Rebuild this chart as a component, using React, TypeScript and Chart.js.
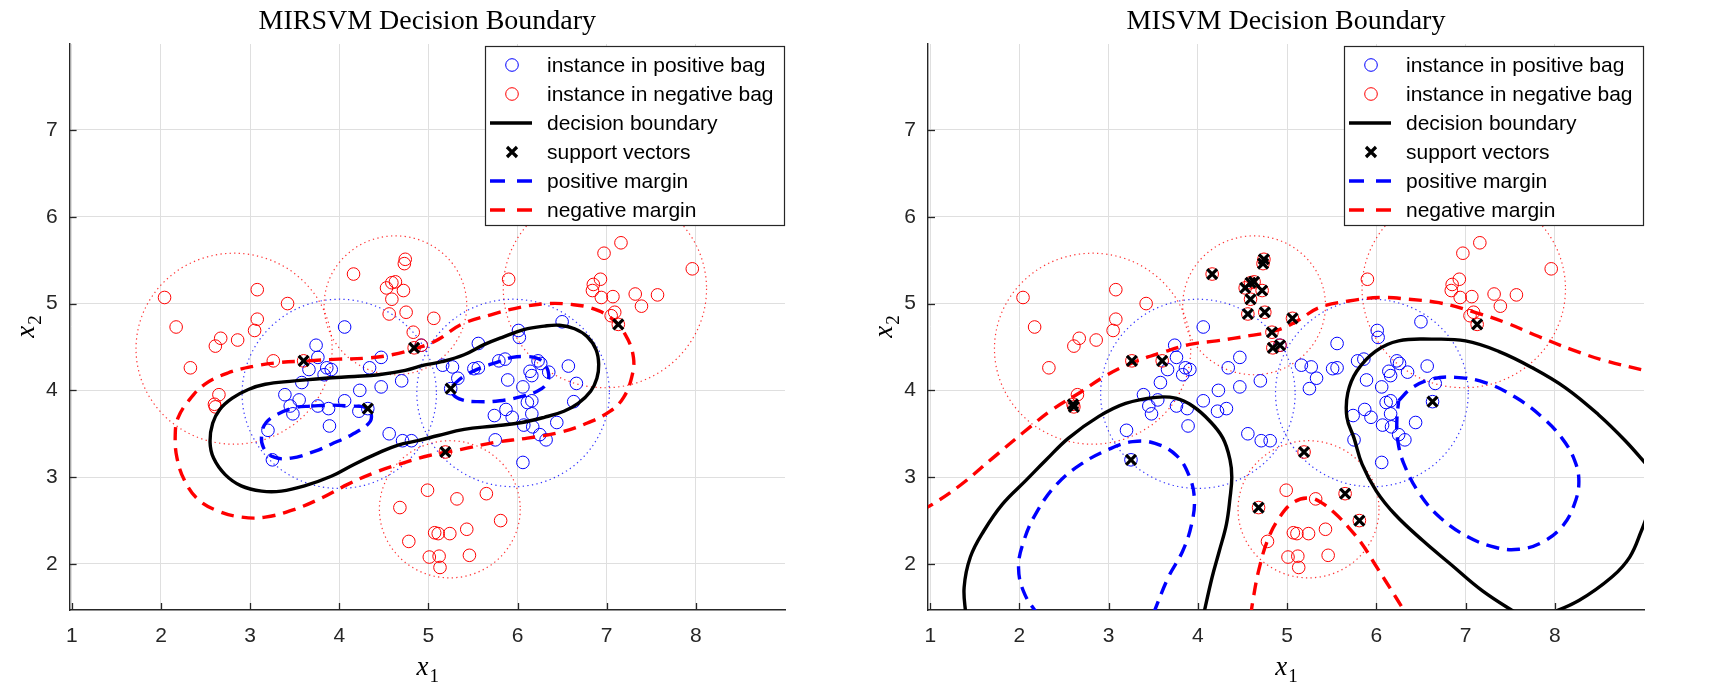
import React, { useEffect, useRef } from 'react';
import { Chart, registerables } from 'chart.js';

Chart.register(...registerables);

// ---------------- data ----------------
const chartTitles = ['MIRSVM Decision Boundary', 'MISVM Decision Boundary'];
const legendLabels = [
  'instance in positive bag',
  'instance in negative bag',
  'decision boundary',
  'support vectors',
  'positive margin',
  'negative margin',
];
const xTicks = [1, 2, 3, 4, 5, 6, 7, 8];
const yTicks = [2, 3, 4, 5, 6, 7];
const xRange = [0.975, 9.0];
const yRange = [1.47, 7.99];

const posX = [4.06, 3.74, 3.76, 3.66, 3.86, 3.91, 3.83, 4.34, 4.47, 3.58, 3.39, 3.55, 4.06, 4.23, 4.47, 4.70, 3.45, 3.48, 3.76, 3.88, 4.22, 4.32, 3.89, 3.20, 3.25, 4.56, 4.71, 4.81, 4.92, 5.16, 5.27, 5.33, 5.51, 5.56, 5.56, 5.79, 5.86, 6.01, 6.02, 6.50, 6.23, 6.26, 6.14, 6.16, 6.35, 6.57, 6.66, 5.89, 6.06, 5.25, 6.63, 6.11, 6.16, 6.16, 5.74, 5.87, 5.94, 6.07, 6.17, 6.25, 6.32, 6.44, 5.75, 6.06];
const posY = [4.73, 4.52, 4.38, 4.24, 4.26, 4.24, 4.18, 4.26, 4.38, 4.09, 3.95, 3.89, 3.88, 4.00, 4.04, 4.11, 3.82, 3.73, 3.82, 3.79, 3.76, 3.79, 3.59, 3.54, 3.20, 3.50, 3.42, 3.42, 4.52, 4.29, 4.27, 4.14, 4.25, 4.26, 4.54, 4.34, 4.36, 4.69, 4.61, 4.79, 4.34, 4.31, 4.22, 4.17, 4.21, 4.28, 4.08, 4.12, 4.04, 4.02, 3.87, 3.86, 3.88, 3.73, 3.71, 3.78, 3.69, 3.60, 3.58, 3.49, 3.43, 3.63, 3.43, 3.17];

const negX = [2.04, 2.17, 2.33, 2.61, 2.67, 2.86, 3.08, 3.08, 3.05, 3.42, 3.26, 2.65, 2.60, 2.61, 3.60, 4.16, 4.74, 4.73, 4.53, 4.59, 4.63, 4.72, 4.59, 4.56, 4.75, 4.83, 5.06, 4.84, 4.92, 5.90, 6.97, 7.16, 7.96, 6.93, 6.85, 6.84, 6.94, 7.07, 7.32, 7.57, 7.39, 7.09, 7.05, 7.13, 4.99, 4.68, 4.78, 5.01, 5.32, 5.65, 5.81, 5.43, 5.24, 5.11, 5.07, 5.12, 5.46, 5.13, 5.19];
const negY = [5.07, 4.73, 4.26, 4.51, 4.60, 4.58, 5.16, 4.82, 4.69, 5.00, 4.34, 3.95, 3.84, 3.81, 4.34, 5.34, 5.51, 5.46, 5.18, 5.24, 5.25, 5.15, 5.05, 4.88, 4.90, 4.67, 4.83, 4.49, 4.52, 5.28, 5.58, 5.70, 5.40, 5.28, 5.22, 5.15, 5.07, 5.08, 5.11, 5.10, 4.97, 4.90, 4.86, 4.76, 2.85, 2.65, 2.26, 2.08, 2.75, 2.81, 2.50, 2.40, 2.35, 2.35, 2.36, 2.09, 2.10, 1.96, 3.29];

// bag circles (center, radius)
const posBagCx = [4.0, 5.95];
const posBagCy = [3.96, 3.97];
const posBagR = [1.09, 1.08];
const negBagCx = [2.82, 4.63, 6.98, 5.24];
const negBagCy = [4.48, 4.98, 5.17, 2.63];
const negBagR = [1.1, 0.8, 1.14, 0.79];

// support vectors
const mirsvmSvX = [3.60, 4.32, 4.84, 5.25, 5.19, 7.13];
const mirsvmSvY = [4.34, 3.79, 4.49, 4.02, 3.29, 4.76];
const misvmSvX = [4.53, 4.59, 4.63, 4.72, 4.59, 4.56, 4.75, 4.83, 5.06, 4.74, 4.73, 4.16, 4.84, 4.92, 3.60, 3.26, 2.60, 2.61, 3.25, 5.19, 7.13, 6.63, 4.68, 5.65, 5.81];
const misvmSvY = [5.18, 5.24, 5.25, 5.15, 5.05, 4.88, 4.90, 4.67, 4.83, 5.51, 5.46, 5.34, 4.49, 4.52, 4.34, 4.34, 3.84, 3.81, 3.20, 3.29, 4.76, 3.87, 2.65, 2.81, 2.50];

// MIRSVM contours
const mirsvmBoundary = [[3.50, 4.11], [3.84, 4.14], [4.17, 4.16], [4.44, 4.18], [4.74, 4.23], [4.95, 4.29], [5.15, 4.33], [5.40, 4.41], [5.63, 4.53], [5.85, 4.62], [6.07, 4.70], [6.30, 4.74], [6.47, 4.75], [6.64, 4.71], [6.78, 4.62], [6.88, 4.47], [6.91, 4.30], [6.89, 4.14], [6.82, 3.99], [6.68, 3.85], [6.52, 3.76], [6.30, 3.69], [6.05, 3.63], [5.74, 3.59], [5.40, 3.55], [5.11, 3.48], [4.88, 3.42], [4.66, 3.37], [4.44, 3.28], [4.17, 3.15], [3.91, 3.01], [3.61, 2.90], [3.35, 2.84], [3.13, 2.84], [2.90, 2.90], [2.72, 3.03], [2.59, 3.22], [2.55, 3.41], [2.58, 3.62], [2.66, 3.78], [2.80, 3.91], [2.98, 4.01], [3.17, 4.07], [3.50, 4.11]];
const mirsvmPosMarginA = [[3.69, 3.82], [3.89, 3.83], [4.10, 3.82], [4.30, 3.80], [4.36, 3.72], [4.33, 3.62], [4.14, 3.49], [3.91, 3.38], [3.73, 3.30], [3.46, 3.22], [3.27, 3.23], [3.15, 3.34], [3.13, 3.50], [3.18, 3.63], [3.30, 3.72], [3.50, 3.80], [3.69, 3.82]];
const mirsvmPosMarginB = [[5.27, 4.05], [5.38, 4.15], [5.59, 4.26], [5.79, 4.33], [5.94, 4.38], [6.10, 4.39], [6.22, 4.37], [6.30, 4.31], [6.35, 4.18], [6.32, 4.07], [6.22, 3.99], [6.05, 3.93], [5.80, 3.88], [5.55, 3.87], [5.38, 3.89], [5.28, 3.95], [5.27, 4.05]];
const mirsvmNegMargin = [[3.65, 4.34], [3.99, 4.36], [4.29, 4.37], [4.59, 4.41], [4.88, 4.49], [5.10, 4.58], [5.37, 4.76], [5.70, 4.87], [6.04, 4.96], [6.34, 5.00], [6.60, 4.99], [6.82, 4.95], [7.04, 4.84], [7.21, 4.64], [7.30, 4.38], [7.28, 4.15], [7.19, 3.92], [7.04, 3.76], [6.75, 3.61], [6.45, 3.51], [6.11, 3.45], [5.74, 3.40], [5.37, 3.32], [5.01, 3.25], [4.74, 3.17], [4.44, 3.07], [4.10, 2.92], [3.80, 2.76], [3.50, 2.63], [3.17, 2.54], [2.90, 2.54], [2.64, 2.61], [2.42, 2.74], [2.27, 2.95], [2.18, 3.22], [2.16, 3.49], [2.19, 3.68], [2.31, 3.88], [2.49, 4.07], [2.75, 4.20], [3.05, 4.28], [3.32, 4.32], [3.65, 4.34]];

// MISVM contours
const misvmBoundaryA = [[1.40, 1.40], [1.38, 1.73], [1.45, 2.08], [1.60, 2.38], [1.81, 2.69], [2.07, 2.96], [2.30, 3.20], [2.55, 3.45], [2.89, 3.70], [3.19, 3.85], [3.53, 3.92], [3.75, 3.91], [3.94, 3.82], [4.13, 3.65], [4.28, 3.45], [4.36, 3.20], [4.38, 3.00], [4.36, 2.76], [4.32, 2.46], [4.24, 2.15], [4.16, 1.85], [4.06, 1.40]];
const misvmBoundaryB = [[7.62, 1.40], [7.19, 1.69], [6.83, 2.00], [6.52, 2.27], [6.21, 2.57], [6.00, 2.84], [5.84, 3.15], [5.75, 3.45], [5.67, 3.69], [5.68, 3.97], [5.78, 4.22], [5.99, 4.45], [6.25, 4.57], [6.62, 4.59], [7.00, 4.57], [7.37, 4.45], [7.75, 4.26], [8.12, 4.03], [8.49, 3.72], [8.79, 3.42], [9.05, 3.12]];
const misvmBoundaryC = [[7.88, 1.40], [8.27, 1.58], [8.64, 1.85], [8.84, 2.08], [8.97, 2.38], [9.05, 2.60]];
const misvmPosMarginA = [[2.22, 1.40], [2.06, 1.65], [1.99, 1.95], [2.05, 2.27], [2.20, 2.61], [2.42, 2.92], [2.69, 3.15], [3.00, 3.32], [3.27, 3.41], [3.52, 3.39], [3.76, 3.25], [3.90, 3.02], [3.96, 2.76], [3.93, 2.46], [3.83, 2.15], [3.67, 1.85], [3.49, 1.40]];
const misvmPosMarginB = [[6.25, 3.88], [6.40, 4.03], [6.62, 4.13], [6.89, 4.15], [7.22, 4.09], [7.56, 3.92], [7.86, 3.69], [8.08, 3.45], [8.22, 3.20], [8.27, 2.95], [8.22, 2.69], [8.09, 2.44], [7.86, 2.25], [7.60, 2.17], [7.34, 2.19], [7.03, 2.31], [6.72, 2.53], [6.49, 2.80], [6.31, 3.15], [6.24, 3.42], [6.23, 3.65], [6.25, 3.88]];
const misvmNegMarginA = [[0.90, 2.62], [1.03, 2.69], [1.34, 2.91], [1.70, 3.22], [2.05, 3.52], [2.37, 3.78], [2.67, 3.97], [2.97, 4.17], [3.27, 4.32], [3.61, 4.44], [3.91, 4.53], [4.21, 4.57], [4.58, 4.63], [4.88, 4.69], [5.13, 4.81], [5.35, 4.95], [5.69, 5.03], [6.06, 5.07], [6.36, 5.05], [6.70, 5.01], [7.07, 4.91], [7.45, 4.78], [7.82, 4.62], [8.19, 4.47], [8.57, 4.34], [9.05, 4.22]];
const misvmNegMarginB = [[4.59, 1.40], [4.62, 1.60], [4.68, 1.92], [4.78, 2.27], [4.91, 2.53], [5.07, 2.71], [5.25, 2.76], [5.38, 2.71], [5.53, 2.59], [5.69, 2.42], [5.84, 2.23], [5.97, 2.02], [6.10, 1.81], [6.35, 1.40]];

// ---------------- styling ----------------
const BLUE = '#0000ff';
const RED = '#ff0000';
const AXIS = '#262626';
const GRID = '#dfdfdf';
const SANS = '"Liberation Sans", Arial, Helvetica, sans-serif';
const SERIF = '"Liberation Serif", "Times New Roman", serif';
const LINE_W = 3.4;
const DASH = [13, 8];

const toPts = (xs: number[], ys: number[]) => xs.map((x, i) => ({ x, y: ys[i] }));
const pairPts = (arr: number[][]) => arr.map(([x, y]) => ({ x, y }));

function drawVarLabel(ctx: CanvasRenderingContext2D, base: string, sub: string, cx: number, cy: number, rotate: boolean) {
  ctx.save();
  ctx.translate(cx, cy);
  if (rotate) ctx.rotate(-Math.PI / 2);
  const f1 = `italic 27px ${SERIF}`;
  const f2 = `19px ${SERIF}`;
  ctx.font = f1;
  const w1 = ctx.measureText(base).width;
  ctx.font = f2;
  const w2 = ctx.measureText(sub).width;
  const start = -(w1 + w2) / 2;
  ctx.fillStyle = '#000';
  ctx.textAlign = 'left';
  ctx.textBaseline = 'alphabetic';
  ctx.font = f1;
  ctx.fillText(base, start, 5);
  ctx.font = f2;
  ctx.fillText(sub, start + w1 + 1, 12);
  ctx.restore();
}

const bagsPlugin = {
  id: 'bags',
  beforeDatasetsDraw(chart: any) {
    const { ctx, chartArea: a, scales } = chart;
    const sx = scales.x;
    const sy = scales.y;
    const ux = Math.abs(sx.getPixelForValue(2) - sx.getPixelForValue(1));
    const uy = Math.abs(sy.getPixelForValue(2) - sy.getPixelForValue(1));
    ctx.save();
    ctx.beginPath();
    ctx.rect(a.left, a.top, a.right - a.left, a.bottom - a.top);
    ctx.clip();
    ctx.lineWidth = 1.2;
    ctx.setLineDash([1.3, 3.3]);
    const draw = (cxs: number[], cys: number[], rs: number[], color: string) => {
      ctx.strokeStyle = color;
      cxs.forEach((cx, i) => {
        ctx.beginPath();
        ctx.ellipse(sx.getPixelForValue(cx), sy.getPixelForValue(cys[i]), rs[i] * ux, rs[i] * uy, 0, 0, Math.PI * 2);
        ctx.stroke();
      });
    };
    draw(negBagCx, negBagCy, negBagR, 'rgba(255,0,0,0.8)');
    draw(posBagCx, posBagCy, posBagR, 'rgba(0,0,255,0.8)');
    ctx.restore();
  },
};

function makeDecorPlugin(title: string) {
  return {
    id: 'decor',
    afterDraw(chart: any) {
      const { ctx, chartArea: a, scales } = chart;
      const sx = scales.x;
      const sy = scales.y;
      ctx.save();
      // inside tick marks
      ctx.strokeStyle = AXIS;
      ctx.lineWidth = 1.3;
      ctx.setLineDash([]);
      xTicks.forEach((v) => {
        const px = Math.round(sx.getPixelForValue(v)) + 0.5;
        ctx.beginPath();
        ctx.moveTo(px, a.bottom);
        ctx.lineTo(px, a.bottom - 7);
        ctx.stroke();
      });
      yTicks.forEach((v) => {
        const py = Math.round(sy.getPixelForValue(v)) + 0.5;
        ctx.beginPath();
        ctx.moveTo(a.left, py);
        ctx.lineTo(a.left + 7, py);
        ctx.stroke();
      });
      // title
      ctx.fillStyle = '#000';
      ctx.font = `28px ${SERIF}`;
      ctx.textAlign = 'center';
      ctx.textBaseline = 'middle';
      const cx = (a.left + a.right) / 2;
      ctx.fillText(title, cx, 22);
      // axis labels
      drawVarLabel(ctx, 'x', '1', cx, 670, false);
      drawVarLabel(ctx, 'x', '2', a.left - 41, (a.top + a.bottom) / 2, true);
      // legend
      const w = 300;
      const h = 179;
      const x0 = a.right - w;
      const y0 = 46;
      ctx.fillStyle = '#fff';
      ctx.fillRect(x0, y0, w, h);
      ctx.strokeStyle = AXIS;
      ctx.lineWidth = 1.2;
      ctx.strokeRect(Math.round(x0) + 0.5, y0 + 0.5, w - 1, h);
      const ix = x0 + 27;
      legendLabels.forEach((lab, i) => {
        const ry = 65 + i * 29;
        ctx.save();
        if (i === 0 || i === 1) {
          ctx.strokeStyle = i === 0 ? BLUE : RED;
          ctx.lineWidth = 1;
          ctx.beginPath();
          ctx.arc(ix, ry, 6.3, 0, Math.PI * 2);
          ctx.stroke();
        } else if (i === 3) {
          ctx.strokeStyle = '#000';
          ctx.lineWidth = 3.2;
          const d = 5;
          ctx.beginPath();
          ctx.moveTo(ix - d, ry - d);
          ctx.lineTo(ix + d, ry + d);
          ctx.moveTo(ix + d, ry - d);
          ctx.lineTo(ix - d, ry + d);
          ctx.stroke();
        } else {
          ctx.strokeStyle = i === 2 ? '#000' : i === 4 ? BLUE : RED;
          ctx.lineWidth = LINE_W;
          ctx.setLineDash(i === 2 ? [] : [15, 12]);
          ctx.beginPath();
          ctx.moveTo(x0 + 5, ry);
          ctx.lineTo(x0 + 47, ry);
          ctx.stroke();
        }
        ctx.restore();
        ctx.fillStyle = '#000';
        ctx.font = `21px ${SANS}`;
        ctx.textAlign = 'left';
        ctx.textBaseline = 'middle';
        ctx.fillText(lab, x0 + 62, ry + 1);
      });
      ctx.restore();
    },
  };
}

function lineDs(label: string, pts: number[][], color: string, dashed: boolean, order: number) {
  return {
    label,
    data: pairPts(pts),
    showLine: true,
    borderColor: color,
    backgroundColor: color,
    borderWidth: LINE_W,
    borderDash: dashed ? DASH : [],
    borderCapStyle: 'butt',
    borderJoinStyle: 'round',
    pointRadius: 0,
    tension: 0.4,
    fill: false,
    order,
  };
}

function makeConfig(idx: number): any {
  const isLeft = idx === 0;
  const sv = isLeft ? toPts(mirsvmSvX, mirsvmSvY) : toPts(misvmSvX, misvmSvY);
  const curves = isLeft
    ? [
        lineDs('decision boundary', mirsvmBoundary, '#000', false, 2),
        lineDs('positive margin', mirsvmPosMarginA, BLUE, true, 3),
        lineDs('positive margin', mirsvmPosMarginB, BLUE, true, 3),
        lineDs('negative margin', mirsvmNegMargin, RED, true, 4),
      ]
    : [
        lineDs('decision boundary', misvmBoundaryA, '#000', false, 2),
        lineDs('decision boundary', misvmBoundaryB, '#000', false, 2),
        lineDs('decision boundary', misvmBoundaryC, '#000', false, 2),
        lineDs('positive margin', misvmPosMarginA, BLUE, true, 3),
        lineDs('positive margin', misvmPosMarginB, BLUE, true, 3),
        lineDs('negative margin', misvmNegMarginA, RED, true, 4),
        lineDs('negative margin', misvmNegMarginB, RED, true, 4),
      ];
  const datasets = [
    {
      label: 'support vectors',
      data: sv,
      pointStyle: 'crossRot',
      pointRadius: 7,
      borderColor: '#000',
      backgroundColor: '#000',
      borderWidth: 3.2,
      showLine: false,
      order: 0,
    },
    ...curves,
    {
      label: 'instance in negative bag',
      data: toPts(negX, negY),
      pointStyle: 'circle',
      pointRadius: 6.3,
      borderColor: RED,
      backgroundColor: 'rgba(0,0,0,0)',
      borderWidth: 1,
      showLine: false,
      order: 10,
    },
    {
      label: 'instance in positive bag',
      data: toPts(posX, posY),
      pointStyle: 'circle',
      pointRadius: 6.3,
      borderColor: BLUE,
      backgroundColor: 'rgba(0,0,0,0)',
      borderWidth: 1,
      showLine: false,
      order: 11,
    },
  ];
  const tickFont = { family: SANS, size: 21 };
  return {
    type: 'scatter',
    data: { datasets },
    options: {
      animation: false,
      responsive: false,
      maintainAspectRatio: false,
      devicePixelRatio: 1,
      events: [],
      layout: {
        padding: isLeft
          ? { left: 9.6, right: 81, top: 44, bottom: 0 }
          : { left: 2, right: 88, top: 44, bottom: 0 },
      },
      plugins: {
        legend: { display: false },
        tooltip: { enabled: false },
        title: { display: false },
      },
      scales: {
        x: {
          type: 'linear',
          position: 'bottom',
          min: xRange[0],
          max: xRange[1],
          afterBuildTicks: (s: any) => {
            s.ticks = xTicks.map((v) => ({ value: v }));
          },
          afterFit: (s: any) => {
            s.height = 89;
          },
          grid: { color: GRID, lineWidth: 1, drawTicks: false },
          border: { display: true, color: AXIS, width: 1.4 },
          ticks: { color: AXIS, font: tickFont, padding: 14, maxRotation: 0, autoSkip: false },
        },
        y: {
          type: 'linear',
          position: 'left',
          min: yRange[0],
          max: yRange[1],
          afterBuildTicks: (s: any) => {
            s.ticks = yTicks.map((v) => ({ value: v }));
          },
          afterFit: (s: any) => {
            s.width = 60;
          },
          grid: { color: GRID, lineWidth: 1, drawTicks: false },
          border: { display: true, color: AXIS, width: 1.4 },
          ticks: { color: AXIS, font: tickFont, padding: 12, autoSkip: false },
        },
      },
    },
    plugins: [bagsPlugin, makeDecorPlugin(chartTitles[idx])],
  };
}

export default function App() {
  const leftRef = useRef<HTMLCanvasElement>(null);
  const rightRef = useRef<HTMLCanvasElement>(null);
  useEffect(() => {
    const c1 = new Chart(leftRef.current as HTMLCanvasElement, makeConfig(0));
    const c2 = new Chart(rightRef.current as HTMLCanvasElement, makeConfig(1));
    return () => {
      c1.destroy();
      c2.destroy();
    };
  }, []);
  return (
    <div style={{ position: 'absolute', left: 0, top: 0, width: 1732, height: 699, background: '#fff', overflow: 'hidden' }}>
      <canvas ref={leftRef} width={866} height={699} style={{ position: 'absolute', left: 0, top: 0, width: 866, height: 699 }} />
      <canvas ref={rightRef} width={866} height={699} style={{ position: 'absolute', left: 866, top: 0, width: 866, height: 699 }} />
    </div>
  );
}
